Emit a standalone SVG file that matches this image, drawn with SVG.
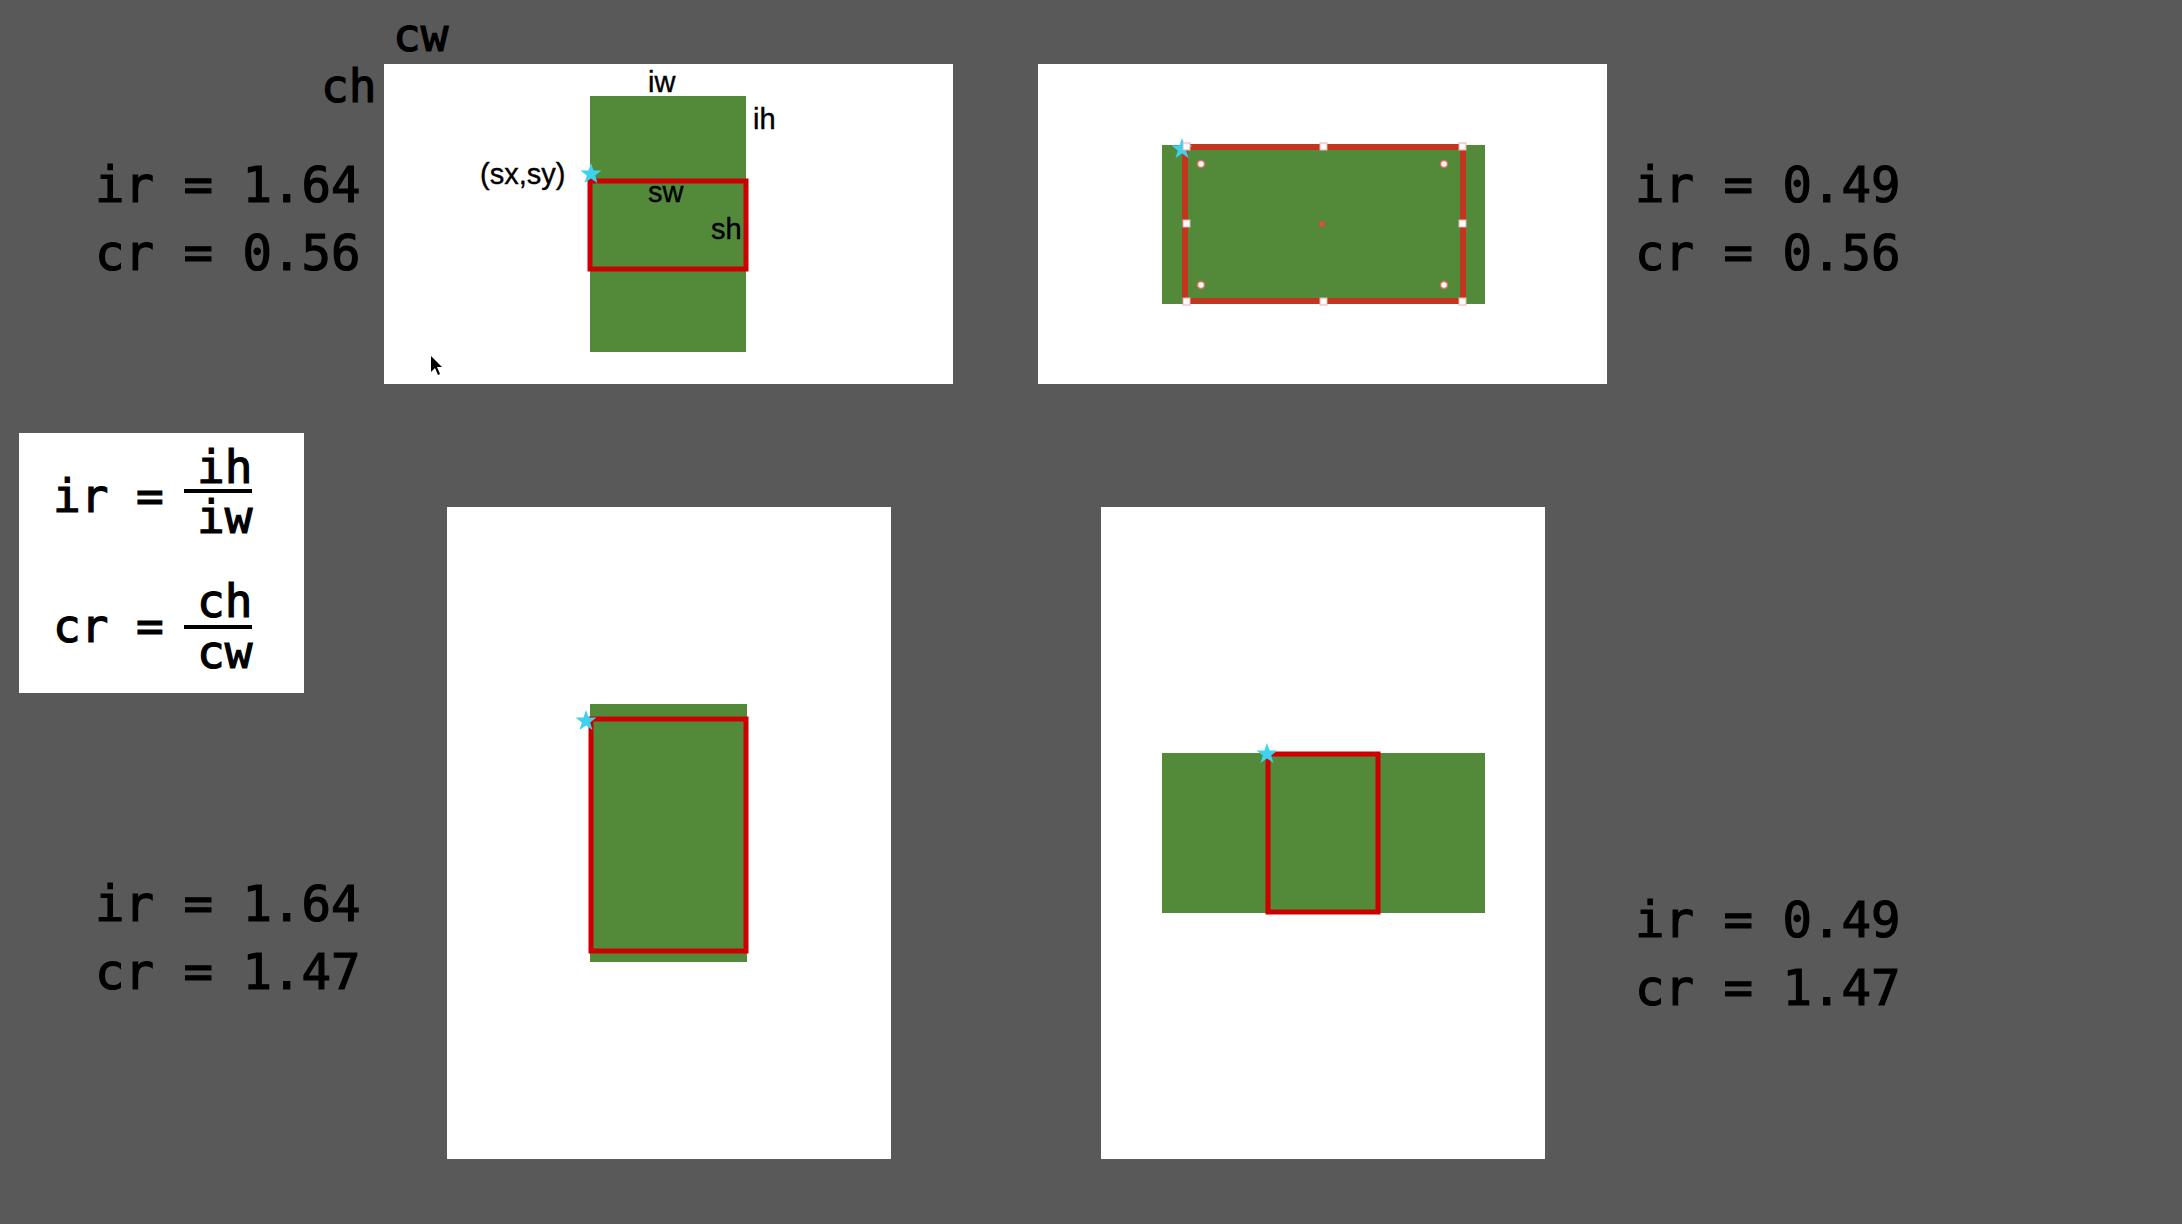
<svg xmlns="http://www.w3.org/2000/svg" width="2182" height="1224" viewBox="0 0 2182 1224">
<style>
.panel{fill:#ffffff}
.img{fill:#528a3a}
.sel{fill:none;stroke:#cc0000;stroke-width:5}
.sel2{fill:none;stroke:#c2351f;stroke-width:6}
.mono{font-family:"DejaVu Sans Mono","Liberation Mono",monospace;fill:#000;stroke:#000;stroke-width:1.2}
.big{font-size:49px}
.mid{font-size:46px}
.lbl{font-family:"Liberation Sans",Arial,sans-serif;font-size:29px;fill:#000;stroke:#000;stroke-width:0.4}
.star{fill:#3fd2ef}
.hdl{fill:#ffffff;stroke:#e8b0a8;stroke-width:1}
.dot{fill:#ffffff;stroke:#e07060;stroke-width:1.5}
</style>
<defs>
<path id="starShape" d="M0,-11 L2.6,-3.6 L10.5,-3.4 L4.2,1.4 L6.5,8.9 L0,4.4 L-6.5,8.9 L-4.2,1.4 L-10.5,-3.4 L-2.6,-3.6 Z"/>
</defs>
<rect width="2182" height="1224" fill="#595959"/>

<g id="panel-top-left">
<rect class="panel" x="384" y="64" width="569" height="320"/>
<rect class="img" x="590" y="96" width="156" height="256"/>
<rect class="sel" x="590" y="181" width="156" height="88"/>
<use href="#starShape" class="star" x="591" y="174"/>
<text class="lbl" x="480" y="184">(sx,sy)</text>
<text class="lbl" x="648" y="92">iw</text>
<text class="lbl" x="753" y="129">ih</text>
<text class="lbl" x="648" y="202">sw</text>
<text class="lbl" x="711" y="239">sh</text>
<path d="M431,356 L431,372 L435,368 L438,375 L440,374 L437,367 L442,367 Z" fill="#000"/>
</g>

<g id="labels-canvas">
<text class="mono mid" x="393" y="51">cw</text>
<text class="mono mid" x="321" y="102">ch</text>
</g>

<g id="ratios-top-left">
<text class="mono big" x="95" y="202">ir = 1.64</text>
<text class="mono big" x="95" y="270">cr = 0.56</text>
</g>

<g id="panel-top-right">
<rect class="panel" x="1038" y="64" width="569" height="320"/>
<rect class="img" x="1162" y="145" width="323" height="159"/>
<rect class="sel2" x="1185" y="147" width="278" height="154"/>
<use href="#starShape" class="star" x="1182" y="149"/>
<rect class="hdl" x="1183" y="143" width="7" height="7"/>
<rect class="hdl" x="1320" y="143" width="7" height="7"/>
<rect class="hdl" x="1459" y="143" width="7" height="7"/>
<rect class="hdl" x="1183" y="220" width="7" height="7"/>
<rect class="hdl" x="1459" y="220" width="7" height="7"/>
<rect class="hdl" x="1183" y="298" width="7" height="7"/>
<rect class="hdl" x="1320" y="298" width="7" height="7"/>
<rect class="hdl" x="1459" y="298" width="7" height="7"/>
<circle class="dot" cx="1201" cy="164" r="3.5"/>
<circle class="dot" cx="1444" cy="164" r="3.5"/>
<circle class="dot" cx="1201" cy="285" r="3.5"/>
<circle class="dot" cx="1444" cy="285" r="3.5"/>
<circle cx="1322" cy="224" r="3" fill="#d9503c"/>
</g>

<g id="ratios-top-right">
<text class="mono big" x="1635" y="202">ir = 0.49</text>
<text class="mono big" x="1635" y="270">cr = 0.56</text>
</g>

<g id="formula-box">
<rect class="panel" x="19" y="433" width="285" height="260"/>
<text class="mono mid" x="53" y="512">ir =</text>
<text class="mono mid" x="197" y="483">ih</text>
<line x1="184" y1="491" x2="252" y2="491" stroke="#000" stroke-width="4"/>
<text class="mono mid" x="197" y="533">iw</text>
<text class="mono mid" x="53" y="642">cr =</text>
<text class="mono mid" x="197" y="617">ch</text>
<line x1="184" y1="627" x2="252" y2="627" stroke="#000" stroke-width="4"/>
<text class="mono mid" x="197" y="668">cw</text>
</g>

<g id="panel-bottom-left">
<rect class="panel" x="447" y="507" width="444" height="652"/>
<rect class="img" x="590" y="704" width="157" height="258"/>
<rect class="sel" x="591" y="719" width="155" height="232"/>
<use href="#starShape" class="star" x="586" y="721"/>
</g>

<g id="ratios-bottom-left">
<text class="mono big" x="95" y="921">ir = 1.64</text>
<text class="mono big" x="95" y="989">cr = 1.47</text>
</g>

<g id="panel-bottom-right">
<rect class="panel" x="1101" y="507" width="444" height="652"/>
<rect class="img" x="1162" y="753" width="323" height="160"/>
<rect class="sel" x="1268" y="754" width="110" height="158"/>
<use href="#starShape" class="star" x="1267" y="754"/>
</g>

<g id="ratios-bottom-right">
<text class="mono big" x="1635" y="937">ir = 0.49</text>
<text class="mono big" x="1635" y="1005">cr = 1.47</text>
</g>

<g id="connectors"></g>
</svg>
